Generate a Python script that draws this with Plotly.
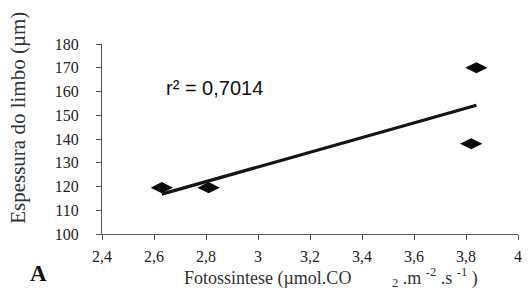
import numpy as np
import plotly.graph_objects as go

# Data
fotossintese = [2.63, 2.81, 3.84, 3.82]
espessura = [119.5, 119.5, 170.0, 138.0]
r2_label = "r² = 0,7014"

x_tickvals = [2.4, 2.6, 2.8, 3.0, 3.2, 3.4, 3.6, 3.8, 4.0]
x_ticktext = ["2,4", "2,6", "2,8", "3", "3,2", "3,4", "3,6", "3,8", "4"]
y_tickvals = [100, 110, 120, 130, 140, 150, 160, 170, 180]
y_ticktext = [str(v) for v in y_tickvals]

# Linear trend line
slope, intercept = np.polyfit(fotossintese, espessura, 1)
x_fit = [min(fotossintese), max(fotossintese)]
y_fit = [slope * v + intercept for v in x_fit]

fig = go.Figure()
fig.add_trace(go.Scatter(
    x=x_fit, y=y_fit, mode="lines",
    line=dict(color="#151515", width=3.2),
    hoverinfo="skip", showlegend=False,
))
fig.add_trace(go.Scatter(
    x=fotossintese, y=espessura, mode="markers",
    marker=dict(symbol="diamond-wide", size=16, color="#0a0a0a",
                line=dict(width=0)),
    showlegend=False,
))

serif = "Liberation Serif"
sans = "Liberation Sans"

axis_common = dict(
    showgrid=False, zeroline=False, showline=True,
    linecolor="#555555", linewidth=1.2,
    ticks="outside", ticklen=5, tickcolor="#555555", tickwidth=1.2,
    tickfont=dict(family=serif, size=16, color="#222222"),
)

sp = "\u00a0"
x_title = ("Fotossintese (µmol.CO" + sp * 9 + "<sub>2</sub>" + sp + ".m" + sp
           + "<sup>-2</sup>" + sp + ".s" + sp + "<sup>-1</sup>" + sp + ")")

fig.update_layout(
    width=529, height=295,
    margin=dict(l=102, r=7, t=44, b=61),
    paper_bgcolor="white", plot_bgcolor="white",
    xaxis=dict(range=[2.4, 4.0], tickmode="array", tickvals=x_tickvals,
               ticktext=x_ticktext, ticklabelstandoff=3, **axis_common),
    yaxis=dict(range=[100, 180], tickmode="array", tickvals=y_tickvals,
               ticktext=y_ticktext, ticklabelstandoff=14, **axis_common),
    annotations=[
        dict(text=r2_label, xref="x", yref="y", x=2.64, y=161.5,
             xanchor="left", yanchor="middle", showarrow=False,
             font=dict(family=sans, size=20, color="#111111")),
        dict(text="Espessura do limbo (µm)", xref="paper", yref="paper",
             x=(17 - 102) / 420, y=(234 - 118) / 190, textangle=-90,
             xanchor="center", yanchor="middle", showarrow=False,
             font=dict(family=serif, size=21, color="#333333")),
        dict(text=x_title,
             xref="paper", yref="paper",
             x=(183 - 102) / 420, y=-(277 - 234) / 190,
             xanchor="left", yanchor="middle", showarrow=False,
             font=dict(family=serif, size=18, color="#333333")),
        dict(text="<b>A</b>", xref="paper", yref="paper",
             x=(38 - 102) / 420, y=-(273 - 234) / 190,
             xanchor="center", yanchor="middle", showarrow=False,
             font=dict(family=serif, size=23, color="#111111")),
    ],
)

fig.write_html("out.html",
               config={"displayModeBar": False},
               post_script="document.body.style.margin='0';document.body.style.padding='0';")
